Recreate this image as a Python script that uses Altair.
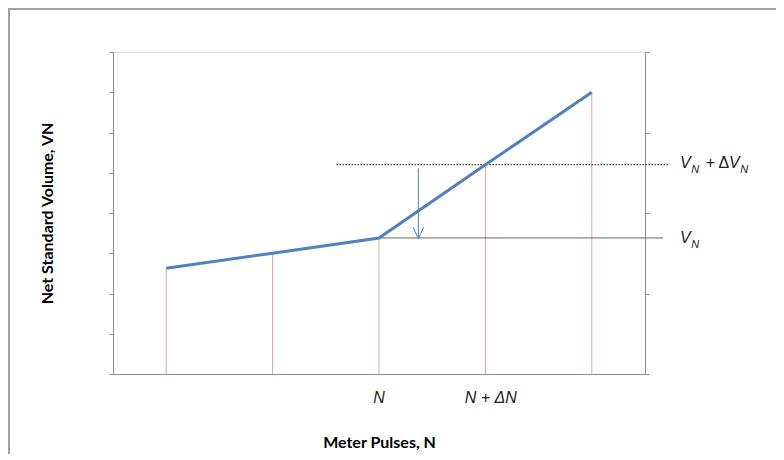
import altair as alt
import pandas as pd

# Curve points (x in pulse units, y in volume units)
pulse_x = [0.5, 1.5, 2.5, 3.5, 4.5]
volume_y = [2.63, 3.0, 3.38, 5.2, 7.0]

# Reference lines
dotted_y = 5.2
dotted_x = [2.1, 5.22]
solid_y = 3.38
solid_x = [2.5, 5.17]

# Arrow
arrow_x = 2.87
arrow_y = [5.11, 3.36]

# Bottom labels
bottom_text = ["N", "N + \u0394N"]
bottom_x = [2.5, 3.55]
bottom_y = [-0.72, -0.72]

# Right labels (parts)
italic_text = ["V", "N", "V", "N", "V", "N"]
italic_x = [5.33, 5.435, 5.79, 5.895, 5.33, 5.435]
italic_y = [5.118, 5.0, 5.118, 5.0, 3.255, 3.14]
italic_size = [16, 11, 16, 11, 16, 11]
upright_text = ["+ \u0394"]
upright_x = [5.57]
upright_y = [5.118]

left_ticks = [0, 1, 2, 3, 4, 5, 6, 7, 8]
right_ticks = [0, 2, 4, 6, 8]

W, H = 532, 322
xs = alt.Scale(domain=[0, 5], nice=False, zero=False)
ys = alt.Scale(domain=[0, 8], nice=False, zero=False)

pts = pd.DataFrame({"x": pulse_x, "y": volume_y})

axis_gray = "#8c8c8c"

X = alt.X("x:Q", scale=xs, axis=None)
Y = alt.Y("y:Q", scale=ys, axis=None)

base_x = alt.X("x:Q", scale=xs, axis=alt.Axis(
    title="Meter Pulses, N", labels=False, ticks=False, grid=False,
    domainColor=axis_gray, titleFont="Lato", titleFontSize=16,
    titleFontWeight="bold", titleColor="#000", titlePadding=60))

# Left axis layer (also draws red drop lines)
drops = alt.Chart(pts).mark_rule(color="#dca3a3", strokeWidth=1).encode(
    x=base_x,
    y=alt.Y("y:Q", scale=ys, axis=alt.Axis(
        values=left_ticks, labels=False, grid=False, tickSize=4,
        tickColor=axis_gray, domainColor=axis_gray,
        title="Net Standard Volume,  VN", titleFont="Lato", titleFontSize=16,
        titleFontWeight="bold", titleColor="#000", titlePadding=53)),
    y2=alt.datum(0),
)

# Right axis layer
right = alt.Chart(pts).mark_point(opacity=0).encode(
    x=X,
    y=alt.Y("y:Q", scale=ys, axis=alt.Axis(
        orient="right", values=right_ticks, labels=False, grid=False,
        tickSize=4, tickColor=axis_gray, domainColor=axis_gray, title=None)),
)

line = alt.Chart(pts).mark_line(color="#4f81bd", strokeWidth=3).encode(x=X, y=Y)

hdot = alt.Chart(pd.DataFrame({"x": [dotted_x[0]], "x2": [dotted_x[1]], "y": [dotted_y]})).mark_rule(
    color="#111", strokeWidth=1, strokeDash=[1.5, 1.5]).encode(x=X, x2="x2:Q", y=Y)

hsol = alt.Chart(pd.DataFrame({"x": [solid_x[0]], "x2": [solid_x[1]], "y": [solid_y]})).mark_rule(
    color="#666", strokeWidth=1).encode(x=X, x2="x2:Q", y=Y)

arrow = alt.Chart(pd.DataFrame({"x": [arrow_x], "y": [arrow_y[0]], "y2": [arrow_y[1]]})).mark_rule(
    color="#4a7ebb", strokeWidth=1).encode(x=X, y=Y, y2="y2:Q")

head = alt.Chart(pd.DataFrame({"x": [arrow_x], "y": [arrow_y[1]]})).mark_point(
    shape="M -1 -2.2 L 0 0 L 1 -2.2", filled=False, color="#4a7ebb",
    strokeWidth=1, size=110, opacity=1).encode(x=X, y=Y)

bottom = alt.Chart(pd.DataFrame({"x": bottom_x, "y": bottom_y, "t": bottom_text})).mark_text(
    font="Liberation Sans", fontStyle="italic", fontSize=16, color="#222",
    align="center", baseline="alphabetic").encode(x=X, y=Y, text="t:N")

ital = alt.Chart(pd.DataFrame({"x": italic_x, "y": italic_y, "t": italic_text, "s": italic_size})).mark_text(
    font="Liberation Sans", fontStyle="italic", color="#222",
    align="left", baseline="alphabetic").encode(
    x=X, y=Y, text="t:N", size=alt.Size("s:Q", scale=None, legend=None))

upr = alt.Chart(pd.DataFrame({"x": upright_x, "y": upright_y, "t": upright_text})).mark_text(
    font="Liberation Sans", fontSize=16, color="#222",
    align="left", baseline="alphabetic").encode(x=X, y=Y, text="t:N")

# Outer frame (left and top edges)
frame_left = alt.Chart(pts).mark_rule(color="#a0a0a0", strokeWidth=1.5).encode(
    x=alt.value(-104.2), y=alt.value(-43.2), y2=alt.value(420))
frame_top = alt.Chart(pts).mark_rule(color="#a0a0a0", strokeWidth=1.5).encode(
    x=alt.value(-104.2), x2=alt.value(700), y=alt.value(-43.2))

chart = alt.layer(
    frame_left, frame_top, drops, right, hdot, hsol, line, arrow, head, bottom, ital, upr
).resolve_axis(x="independent", y="independent").properties(
    width=W, height=H,
    autosize=alt.AutoSizeParams(type="none"),
    padding={"left": 105, "top": 44, "right": 131, "bottom": 80},
).configure_view(stroke=None).configure(background="white")

chart.save("out.html", embed_options={"renderer": "svg", "actions": False})
